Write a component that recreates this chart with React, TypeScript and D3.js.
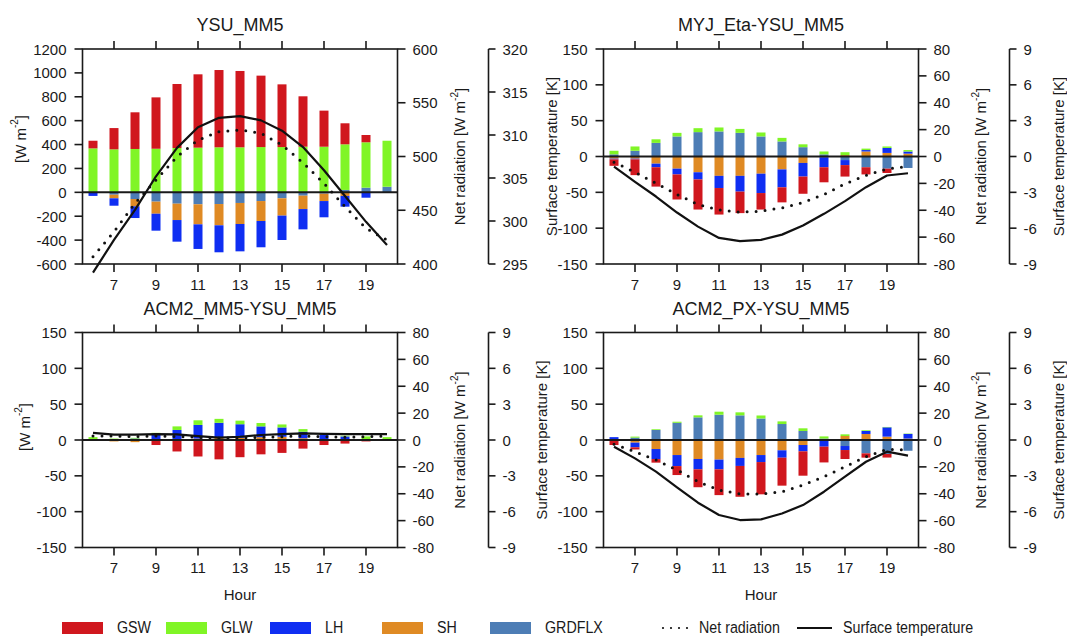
import React from 'react';
import * as d3 from 'd3';

// ---------- data ----------
const HOURS = [6, 7, 8, 9, 10, 11, 12, 13, 14, 15, 16, 17, 18, 19, 20];
const X_TICKS = [7, 9, 11, 13, 15, 17, 19];

// Panel 1: YSU_MM5
const P1_GSW = [64, 178, 307, 430, 536, 614, 647, 639, 598, 525, 422, 302, 176, 61, 0];
const P1_GLW = [368, 360, 363, 365, 371, 374, 377, 377, 379, 379, 382, 382, 382, 380, 385];
const P1_LH = [-25, -62, -98, -142, -181, -206, -226, -229, -220, -204, -170, -136, -90, -40, 0];
const P1_SH = [0, -30, -61, -101, -137, -168, -178, -176, -167, -145, -112, -62, -30, -5, 0];
const P1_GRDFLX = [-5, -20, -56, -78, -95, -100, -98, -89, -73, -50, -28, -11, 20, 39, 47];
const P1_NET = [406.8, 430, 456.4, 478.1, 499.8, 515.3, 523.1, 524.7, 521.6, 510.7, 494.2, 475, 453.3, 433.2, 422.3];
const P1_TS = [294.0, 297.8, 301.3, 305.2, 308.5, 310.9, 312.0, 312.2, 311.7, 310.5, 308.6, 305.9, 302.9, 299.9, 297.2];

// Panel 2: MYJ_Eta-YSU_MM5
const P2_GSW = [-9, -22, -27, -35, -42, -37, -30, -23, -21, -24, -21, -16, -10, -6, 0];
const P2_GLW = [5, 6, 5, 5, 5.5, 5.5, 5.5, 5.5, 5, 4, 4, 4, 2, 2, 2];
const P2_LH = [-1, -1, -5, -8, -10, -17, -22, -27, -25, -19, -14, -7, 2, 7, 3];
const P2_SH = [-3, -3, -10, -17, -22, -27, -27, -24, -18, -9, -1, 2, 7, 5, 4];
const P2_GRDFLX = [3, 8, 19, 28, 34, 35, 33, 28, 21, 13, 3, -5, -15, -17, -16];
const P2_NET = [-4.2, -11.7, -19.9, -28.3, -35.7, -39.7, -41.4, -40.7, -38.2, -34.2, -28.3, -20.3, -14.1, -9.2, -7.4];
const P2_TS = [-0.84, -2.12, -3.35, -4.69, -5.87, -6.82, -7.09, -6.98, -6.54, -5.78, -4.8, -3.74, -2.57, -1.59, -1.4];

// Panel 3: ACM2_MM5-YSU_MM5
const P3_GSW = [0, 0, 0, -7, -15, -23, -27, -24, -20, -18, -12, -7, -5, -2, 0];
const P3_GLW = [4, 2, 1, 3, 5, 6.5, 5.5, 5, 4.7, 4.2, 3.7, 2.4, 1, 5, 4];
const P3_LH = [0, 0, 2, 7, 14, 19, 21, 19, 15, 13, 9, 7, 5, 0, 0];
const P3_SH = [0, -2, -3, 0, -1, 2, 3, 3, 4, 4.5, 2.5, 0, 0, 0, 0];
const P3_GRDFLX = [0, 0, 0, 0, 0, 0, 0, 0, 0, 0, 0, 0, 0, 0, 0];
const P3_NET = [3, 3, 2.5, 3, 2.5, 2, 1.5, 1.5, 2, 2.5, 3, 2.5, 2, 2.5, 3];
const P3_TS = [0.59, 0.45, 0.45, 0.5, 0.47, 0.33, 0.2, 0.27, 0.42, 0.5, 0.55, 0.52, 0.5, 0.5, 0.5];

// Panel 4: ACM2_PX-YSU_MM5
const P4_GSW = [-6, -3, -5, -12.5, -25, -36, -43, -45, -39, -34, -22, -12.5, -6, -5, 0];
const P4_GLW = [0, 1.4, 1, 1.5, 2.8, 4.2, 4.2, 4.2, 3.7, 3.7, 3, 2.3, 1, 0.5, 0.5];
const P4_LH = [3, -6.5, -14, -15.4, -14.4, -13.5, -11.2, -9.8, -10.3, -8.8, -9.3, -5.6, 4.2, 13, 6.5];
const P4_SH = [-1, -3.7, -12.6, -21, -26.5, -27.4, -25, -21, -14.4, -7, 0, 5.6, 8.4, 4.7, 2];
const P4_GRDFLX = [1, 3.3, 14, 24, 31.6, 35.3, 34.4, 30, 22.3, 12.6, 2, -8.4, -18.6, -19.5, -15];
const P4_NET = [-3.2, -8.7, -14.9, -22.3, -31, -37.2, -40.2, -40.2, -38.5, -33.5, -27.3, -19.9, -12.4, -6.9, -7.4];
const P4_TS = [-0.56, -1.54, -2.65, -3.96, -5.25, -6.28, -6.7, -6.65, -6.15, -5.45, -4.33, -3.07, -1.82, -0.98, -1.31];

// tick labels
const P1_LEFT_TICKS = [-600, -400, -200, 0, 200, 400, 600, 800, 1000, 1200];
const P1_NET_TICKS = [400, 450, 500, 550, 600];
const P1_TS_TICKS = [295, 300, 305, 310, 315, 320];
const DIFF_LEFT_TICKS = [-150, -100, -50, 0, 50, 100, 150];
const DIFF_NET_TICKS = [-80, -60, -40, -20, 0, 20, 40, 60, 80];
const DIFF_TS_TICKS = [-9, -6, -3, 0, 3, 6, 9];

const KEYS = ['GRDFLX', 'SH', 'LH', 'GLW', 'GSW'];
const LEGEND_KEYS = ['GSW', 'GLW', 'LH', 'SH', 'GRDFLX'];
const COLORS: Record<string, string> = {
  GSW: '#d0171e',
  GLW: '#80f526',
  LH: '#0f2ef2',
  SH: '#df8a24',
  GRDFLX: '#4d7db5',
};

const FONT = "'Liberation Sans', Arial, sans-serif";
const INK = '#1a1a1a';

type Cfg = {
  title: string;
  x0: number; x1: number; y0: number; y1: number;
  left: number[]; net: number[]; ts: number[];
  gsw: number[]; glw: number[]; lh: number[]; sh: number[]; grd: number[];
  netV: number[]; tsV: number[];
  leftLabel: 'wm' | 'ts';
  leftLabelX: number; leftLabelY: number;
  hour: boolean;
};

function WmLabel() {
  return (
    <>
      [W m<tspan dy={-6} fontSize={10}>-2</tspan><tspan dy={6}>]</tspan>
    </>
  );
}

function Panel({ c }: { c: Cfg }) {
  const x = d3.scaleLinear().domain([5.5, 20.5]).range([c.x0, c.x1]);
  const y = d3.scaleLinear().domain([c.left[0], c.left[c.left.length - 1]]).range([c.y1, c.y0]);
  const yNet = d3.scaleLinear().domain([c.net[0], c.net[c.net.length - 1]]).range([c.y1, c.y0]);
  const yTs = d3.scaleLinear().domain([c.ts[0], c.ts[c.ts.length - 1]]).range([c.y1, c.y0]);

  const rows = HOURS.map((h, i) => ({
    hour: h, GSW: c.gsw[i], GLW: c.glw[i], LH: c.lh[i], SH: c.sh[i], GRDFLX: c.grd[i],
  }));
  const series = d3.stack<any>().keys(KEYS).offset(d3.stackOffsetDiverging)(rows);

  const netLine = d3.line<number>().x((_, i) => x(HOURS[i])).y((v) => yNet(v));
  const tsLine = d3.line<number>().x((_, i) => x(HOURS[i])).y((v) => yTs(v));

  const bw = 9;
  const ax2 = c.x1 + 91;
  const cy = (c.y0 + c.y1) / 2;
  const cx = (c.x0 + c.x1) / 2;

  return (
    <g fontFamily={FONT} fill={INK}>
      <text x={cx} y={c.y0 - 18} textAnchor="middle" fontSize={18}>{c.title}</text>
      {/* bars */}
      {series.map((s) => (
        <g key={s.key} fill={COLORS[s.key]}>
          {s.map((d, i) => {
            const top = y(Math.max(d[0], d[1]));
            const bot = y(Math.min(d[0], d[1]));
            if (bot - top < 0.01) return null;
            return <rect key={i} x={x(HOURS[i]) - bw / 2} y={top} width={bw} height={bot - top} />;
          })}
        </g>
      ))}
      {/* zero line */}
      <line x1={c.x0} x2={c.x1} y1={y(0)} y2={y(0)} stroke={INK} strokeWidth={2} />
      {/* frame */}
      <rect x={c.x0} y={c.y0} width={c.x1 - c.x0} height={c.y1 - c.y0} fill="none" stroke={INK} strokeWidth={1.6} />
      {/* x ticks */}
      {X_TICKS.map((t) => (
        <g key={t}>
          <line x1={x(t)} x2={x(t)} y1={c.y1} y2={c.y1 + 8} stroke={INK} strokeWidth={1.6} />
          <line x1={x(t)} x2={x(t)} y1={c.y0} y2={c.y0 - 8} stroke={INK} strokeWidth={1.6} />
          <text x={x(t)} y={c.y1 + 25.5} textAnchor="middle" fontSize={15}>{t}</text>
        </g>
      ))}
      {c.hour && (
        <text x={cx} y={c.y1 + 52} textAnchor="middle" fontSize={15}>Hour</text>
      )}
      {/* left axis */}
      {c.left.map((t) => (
        <g key={t}>
          <line x1={c.x0 - 8} x2={c.x0} y1={y(t)} y2={y(t)} stroke={INK} strokeWidth={1.6} />
          <text x={c.x0 - 16} y={y(t)} textAnchor="end" dominantBaseline="central" fontSize={15}>{t}</text>
        </g>
      ))}
      <text transform={`translate(${c.leftLabelX},${c.leftLabelY}) rotate(-90)`} textAnchor="middle" dominantBaseline="central" fontSize={15}>
        {c.leftLabel === 'wm' ? <WmLabel /> : 'Surface temperature [K]'}
      </text>
      {/* net radiation axis */}
      {c.net.map((t) => (
        <g key={t}>
          <line x1={c.x1} x2={c.x1 + 8} y1={yNet(t)} y2={yNet(t)} stroke={INK} strokeWidth={1.6} />
          <text x={c.x1 + 15} y={yNet(t)} dominantBaseline="central" fontSize={15}>{t}</text>
        </g>
      ))}
      <text transform={`translate(${c.x1 + 62},${cy}) rotate(-90)`} textAnchor="middle" dominantBaseline="central" fontSize={15}>
        Net radiation <WmLabel />
      </text>
      {/* surface temperature axis */}
      <line x1={ax2} x2={ax2} y1={c.y0} y2={c.y1} stroke={INK} strokeWidth={1.6} />
      {c.ts.map((t) => (
        <g key={t}>
          <line x1={ax2} x2={ax2 + 7} y1={yTs(t)} y2={yTs(t)} stroke={INK} strokeWidth={1.6} />
          <text x={ax2 + 14} y={yTs(t)} dominantBaseline="central" fontSize={15}>{t}</text>
        </g>
      ))}
      {c.x1 > 600 && (
        <text transform={`translate(${ax2 + 49},${cy}) rotate(-90)`} textAnchor="middle" dominantBaseline="central" fontSize={15}>
          Surface temperature [K]
        </text>
      )}
      {/* lines */}
      <path d={netLine(c.netV) || ''} fill="none" stroke="#111" strokeWidth={3} strokeDasharray="0 9" strokeLinecap="round" />
      <path d={tsLine(c.tsV) || ''} fill="none" stroke="#111" strokeWidth={2.2} strokeLinejoin="round" />
    </g>
  );
}

const PANELS: Cfg[] = [
  {
    title: 'YSU_MM5', x0: 82.5, x1: 397.5, y0: 49, y1: 264,
    left: P1_LEFT_TICKS, net: P1_NET_TICKS, ts: P1_TS_TICKS,
    gsw: P1_GSW, glw: P1_GLW, lh: P1_LH, sh: P1_SH, grd: P1_GRDFLX, netV: P1_NET, tsV: P1_TS,
    leftLabel: 'wm', leftLabelX: 20, leftLabelY: 139, hour: false,
  },
  {
    title: 'MYJ_Eta-YSU_MM5', x0: 603.5, x1: 918.5, y0: 49, y1: 264,
    left: DIFF_LEFT_TICKS, net: DIFF_NET_TICKS, ts: DIFF_TS_TICKS,
    gsw: P2_GSW, glw: P2_GLW, lh: P2_LH, sh: P2_SH, grd: P2_GRDFLX, netV: P2_NET, tsV: P2_TS,
    leftLabel: 'ts', leftLabelX: 551, leftLabelY: 156.5, hour: false,
  },
  {
    title: 'ACM2_MM5-YSU_MM5', x0: 82.5, x1: 397.5, y0: 332.5, y1: 547.5,
    left: DIFF_LEFT_TICKS, net: DIFF_NET_TICKS, ts: DIFF_TS_TICKS,
    gsw: P3_GSW, glw: P3_GLW, lh: P3_LH, sh: P3_SH, grd: P3_GRDFLX, netV: P3_NET, tsV: P3_TS,
    leftLabel: 'wm', leftLabelX: 24, leftLabelY: 427, hour: true,
  },
  {
    title: 'ACM2_PX-YSU_MM5', x0: 603.5, x1: 918.5, y0: 332.5, y1: 547.5,
    left: DIFF_LEFT_TICKS, net: DIFF_NET_TICKS, ts: DIFF_TS_TICKS,
    gsw: P4_GSW, glw: P4_GLW, lh: P4_LH, sh: P4_SH, grd: P4_GRDFLX, netV: P4_NET, tsV: P4_TS,
    leftLabel: 'ts', leftLabelX: 541, leftLabelY: 440, hour: true,
  },
];

function Legend() {
  const swX = [62, 166, 270, 382, 490];
  const ty = 633;
  const lbl = (tx: number, s: string) => (
    <text transform={`translate(${tx},${ty}) scale(0.84,1)`} fontSize={17}>{s}</text>
  );
  return (
    <g fontFamily={FONT} fill={INK}>
      {LEGEND_KEYS.map((k, i) => (
        <g key={k}>
          <rect x={swX[i]} y={622} width={41} height={12} fill={COLORS[k]} />
          {lbl(swX[i] + 55, k)}
        </g>
      ))}
      <line x1={663} x2={690} y1={628} y2={628} stroke="#111" strokeWidth={2.2} strokeDasharray="0 8" strokeLinecap="round" />
      {lbl(699, 'Net radiation')}
      <line x1={797} x2={832} y1={628} y2={628} stroke="#111" strokeWidth={2} />
      {lbl(843, 'Surface temperature')}
    </g>
  );
}

export default function App() {
  return (
    <svg width={1067} height={637} style={{ position: 'absolute', left: 0, top: 0, background: '#fff' }}>
      <rect width={1067} height={637} fill="#fff" />
      {PANELS.map((c) => <Panel key={c.title} c={c} />)}
      <Legend />
    </svg>
  );
}
